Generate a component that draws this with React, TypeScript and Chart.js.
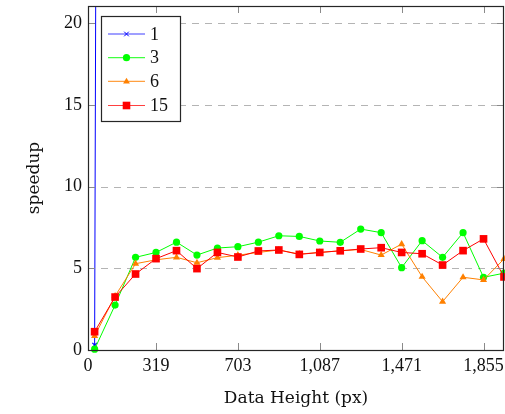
import React, { useEffect, useRef } from 'react';
import { Chart, registerables } from 'chart.js';

Chart.register(...registerables);

// Data heights (px) of the measured points
const heights = [31, 127, 223, 319, 415, 511, 607, 703, 799, 895, 991, 1087, 1183, 1279, 1375, 1471, 1567, 1663, 1759, 1855, 1951];
const xTickValues = [0, 319, 703, 1087, 1471, 1855];
const yTickValues = [0, 5, 10, 15, 20];

const series1 = [0.3, 400];
const series3 = [0.05, 2.75, 5.67, 5.97, 6.6, 5.81, 6.24, 6.32, 6.6, 6.99, 6.95, 6.67, 6.59, 7.4, 7.18, 5.04, 6.69, 5.67, 7.18, 4.45, 4.7];
const series6 = [0.86, 3.3, 5.28, 5.52, 5.67, 5.34, 5.65, 5.8, 5.97, 6.12, 5.87, 5.97, 6.07, 6.15, 5.81, 6.48, 4.48, 2.96, 4.45, 4.29, 5.57];
const series15 = [1.12, 3.24, 4.65, 5.59, 6.08, 4.98, 5.97, 5.69, 6.06, 6.12, 5.85, 5.97, 6.07, 6.18, 6.26, 5.97, 5.89, 5.2, 6.08, 6.8, 4.47];

const seriesLabels = ['1', '3', '6', '15'];
const seriesColors = ['#0000ff', '#00ff00', '#ff8000', '#ff0000'];
const seriesMarkers = ['crossRot', 'circle', 'triangle', 'rect'];
const seriesValues = [series1, series3, series6, series15];

const X_MAX = 1951;
const Y_MAX = 21.05;

const TICK_FONT = '"Liberation Serif", serif';
const TITLE_FONT = '"DejaVu Serif", serif';

function drawMarker(ctx: CanvasRenderingContext2D, style: string, x: number, y: number, color: string) {
  ctx.save();
  ctx.fillStyle = color;
  ctx.strokeStyle = color;
  ctx.lineWidth = 1;
  ctx.beginPath();
  if (style === 'circle') {
    ctx.arc(x, y, 3.6, 0, Math.PI * 2);
    ctx.fill();
  } else if (style === 'rect') {
    ctx.rect(x - 3.8, y - 3.8, 7.6, 7.6);
    ctx.fill();
  } else if (style === 'triangle') {
    const r = 3.6;
    ctx.moveTo(x, y - r);
    ctx.lineTo(x + r * 0.95, y + r * 0.6);
    ctx.lineTo(x - r * 0.95, y + r * 0.6);
    ctx.closePath();
    ctx.fill();
  } else {
    const r = 2.3;
    ctx.moveTo(x - r, y - r);
    ctx.lineTo(x + r, y + r);
    ctx.moveTo(x - r, y + r);
    ctx.lineTo(x + r, y - r);
    ctx.stroke();
  }
  ctx.restore();
}

const decorPlugin = {
  id: 'decor',
  beforeDatasetsDraw(chart: any) {
    const { ctx, chartArea } = chart;
    const ys = chart.scales.y;
    ctx.save();
    ctx.strokeStyle = '#b4b4b4';
    ctx.lineWidth = 1;
    ctx.setLineDash([7, 6]);
    yTickValues.forEach((v) => {
      if (v === 0) return;
      const py = Math.round(ys.getPixelForValue(v)) + 0.5;
      ctx.beginPath();
      ctx.moveTo(chartArea.left, py);
      ctx.lineTo(chartArea.right, py);
      ctx.stroke();
    });
    ctx.restore();
  },
  afterDraw(chart: any) {
    const { ctx, chartArea } = chart;
    const xs = chart.scales.x;
    const ys = chart.scales.y;
    const { left, right, top, bottom } = chartArea;
    ctx.save();
    // inward ticks
    ctx.strokeStyle = '#8a8a8a';
    ctx.lineWidth = 1;
    const tl = 7;
    xTickValues.forEach((v) => {
      const px = Math.round(xs.getPixelForValue(v)) + 0.5;
      ctx.beginPath();
      ctx.moveTo(px, bottom);
      ctx.lineTo(px, bottom - tl);
      ctx.moveTo(px, top);
      ctx.lineTo(px, top + tl);
      ctx.stroke();
    });
    yTickValues.forEach((v) => {
      const py = Math.round(ys.getPixelForValue(v)) + 0.5;
      ctx.beginPath();
      ctx.moveTo(left, py);
      ctx.lineTo(left + tl, py);
      ctx.moveTo(right, py);
      ctx.lineTo(right - tl, py);
      ctx.stroke();
    });
    // frame
    ctx.strokeStyle = '#262626';
    ctx.lineWidth = 1.2;
    ctx.strokeRect(Math.round(left) + 0.5, Math.round(top) + 0.5, Math.round(right - left) - 1, Math.round(bottom - top));

    // legend
    const bx = 101.5, by = 16.5, bw = 79, bh = 105;
    ctx.fillStyle = '#ffffff';
    ctx.fillRect(bx, by, bw, bh);
    ctx.strokeStyle = '#262626';
    ctx.lineWidth = 1.2;
    ctx.strokeRect(bx, by, bw, bh);
    const rowY = [34, 57.7, 81.3, 105.5];
    seriesLabels.forEach((lab, i) => {
      const y = rowY[i];
      ctx.strokeStyle = seriesColors[i];
      ctx.globalAlpha = 0.75;
      ctx.lineWidth = 1.2;
      ctx.beginPath();
      ctx.moveTo(108, y);
      ctx.lineTo(145, y);
      ctx.stroke();
      ctx.globalAlpha = 1;
      drawMarker(ctx, seriesMarkers[i], 126.5, y, seriesColors[i]);
      ctx.fillStyle = '#111111';
      ctx.font = `18px ${TICK_FONT}`;
      ctx.textAlign = 'left';
      ctx.textBaseline = 'middle';
      ctx.fillText(lab, 150, y + 1);
    });
    ctx.restore();
  },
};

export default function App() {
  const canvasRef = useRef<HTMLCanvasElement | null>(null);

  useEffect(() => {
    document.body.style.margin = '0';
    const canvas = canvasRef.current;
    if (!canvas) return;
    const datasets = seriesValues.map((vals, i) => ({
      label: seriesLabels[i],
      data: vals.map((v, j) => ({ x: heights[j], y: v })),
      borderColor: seriesColors[i],
      backgroundColor: seriesColors[i],
      borderWidth: 1,
      pointStyle: seriesMarkers[i] as any,
      pointRadius: i === 0 ? 3.2 : i === 1 ? 3.6 : i === 2 ? 4.1 : 5.4,
      pointBorderWidth: i === 0 ? 1.2 : 0,
      pointBorderColor: seriesColors[i],
      pointBackgroundColor: seriesColors[i],
      tension: 0,
      fill: false,
      clip: i === 0 ? 0 : (false as any),
      order: 3 - i,
    }));

    const chart = new Chart(canvas, {
      type: 'line',
      data: { datasets },
      plugins: [decorPlugin],
      options: {
        animation: false,
        responsive: false,
        maintainAspectRatio: false,
        layout: { autoPadding: false, padding: { top: 6, right: 1, left: 0, bottom: 0 } },
        plugins: {
          legend: { display: false },
          tooltip: { enabled: false },
        },
        scales: {
          x: {
            type: 'linear',
            min: 0,
            max: X_MAX,
            afterBuildTicks: (scale: any) => {
              scale.ticks = xTickValues.map((v) => ({ value: v }));
            },
            afterFit: (scale: any) => {
              scale.height = 64;
              scale.paddingLeft = 0;
              scale.paddingRight = 0;
            },
            grid: { display: false, drawTicks: false, tickLength: 0 },
            border: { display: false },
            ticks: {
              autoSkip: false,
              maxRotation: 0,
              padding: 5,
              color: '#111111',
              font: { family: TICK_FONT, size: 18 },
              callback: (v: any) => Number(v).toLocaleString('en-US'),
            },
            title: {
              display: true,
              text: 'Data Height (px)',
              color: '#111111',
              font: { family: TITLE_FONT, size: 17 },
              padding: { top: 0, bottom: 5 },
            },
          },
          y: {
            type: 'linear',
            min: 0,
            max: Y_MAX,
            afterBuildTicks: (scale: any) => {
              scale.ticks = yTickValues.map((v) => ({ value: v }));
            },
            afterFit: (scale: any) => {
              scale.width = 88;
              scale.paddingTop = 0;
              scale.paddingBottom = 0;
            },
            grid: { display: false, drawTicks: false, tickLength: 0 },
            border: { display: false },
            ticks: {
              padding: 6,
              color: '#111111',
              font: { family: TICK_FONT, size: 18 },
            },
            title: {
              display: true,
              text: 'speedup',
              color: '#111111',
              font: { family: TITLE_FONT, size: 17 },
              padding: { top: 24, bottom: 0 },
            },
          },
        },
      },
    });
    return () => chart.destroy();
  }, []);

  return (
    <div style={{ width: 505, height: 414 }}>
      <canvas ref={canvasRef} width={505} height={414} style={{ display: 'block' }} />
    </div>
  );
}
